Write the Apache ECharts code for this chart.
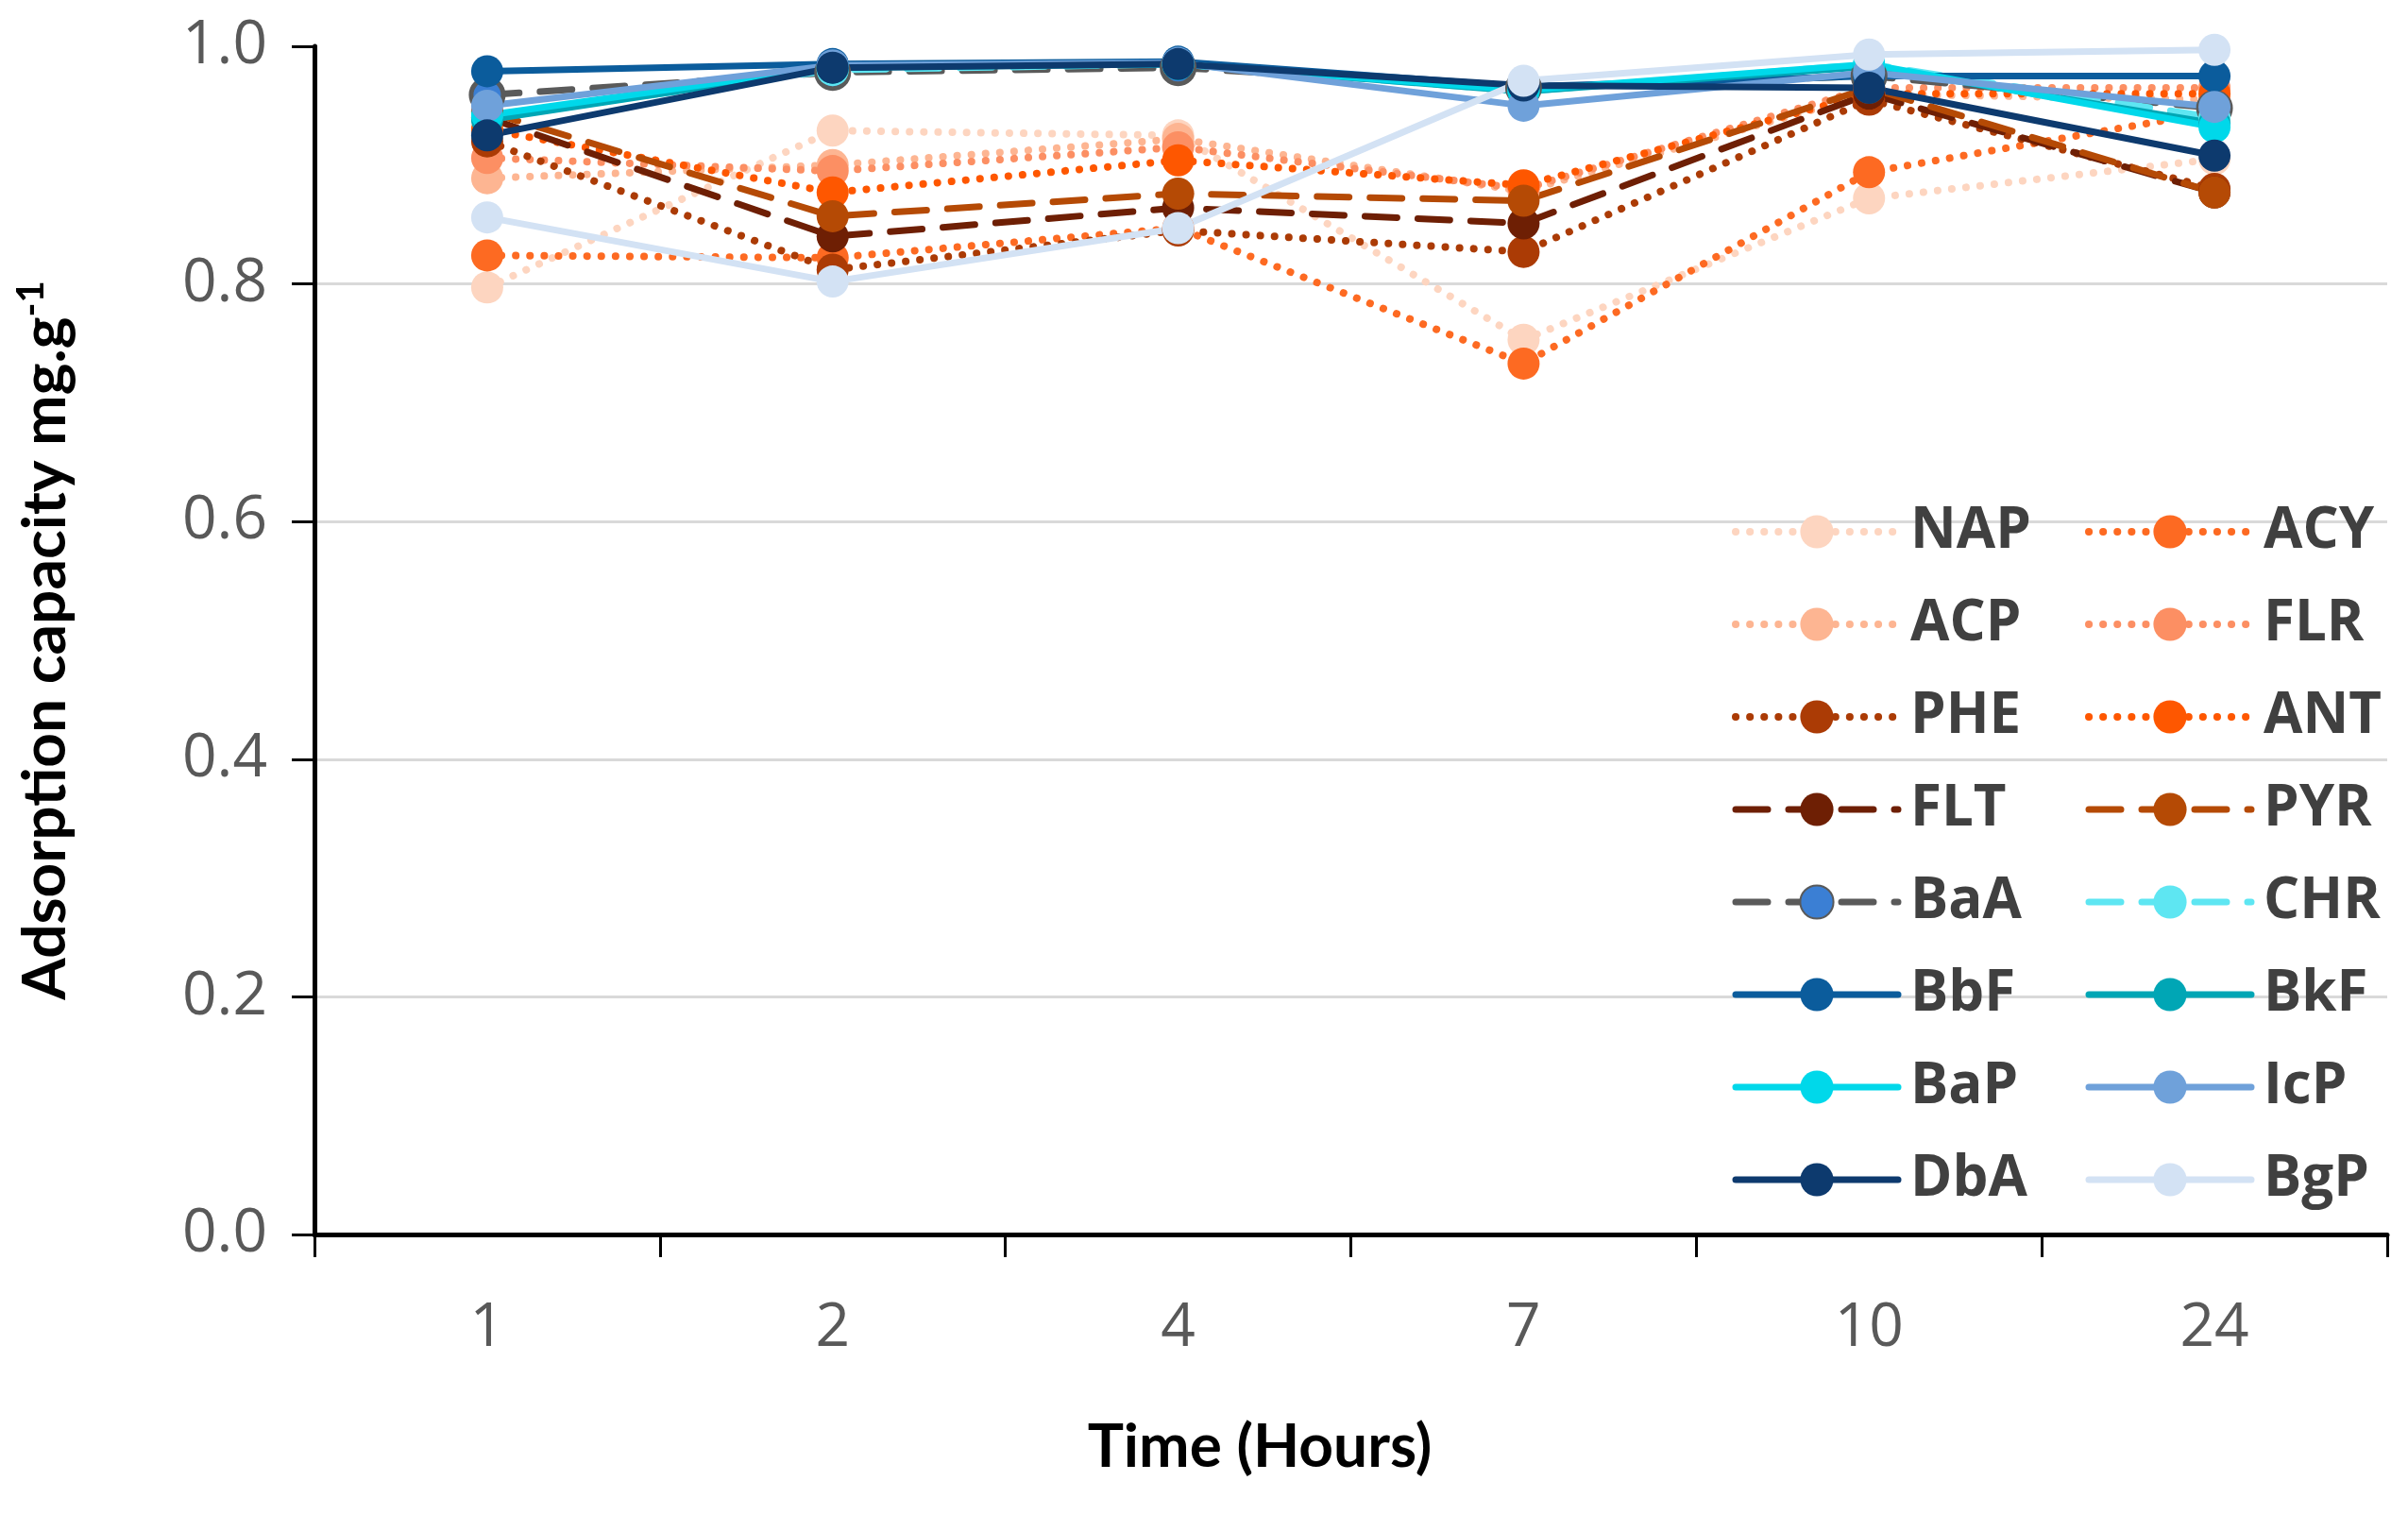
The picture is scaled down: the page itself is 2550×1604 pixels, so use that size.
<!DOCTYPE html>
<html>
<head>
<meta charset="utf-8">
<script src="https://cdn.jsdelivr.net/npm/echarts@6/dist/echarts.min.js"></script>
<style>
html,body{margin:0;padding:0;background:#fff;}
#chart{width:2550px;height:1604px;}
</style>
</head>
<body>
<div id="chart"></div>
<script>
const categories = ['1', '2', '4', '7', '10', '24'];
const yTicks = [0, 0.2, 0.4, 0.6, 0.8, 1.0];

const NAP = [0.797, 0.929, 0.925, 0.753, 0.872, 0.905];
const ACY = [0.824, 0.822, 0.847, 0.733, 0.894, 0.945];
const ACP = [0.889, 0.900, 0.922, 0.878, 0.960, 0.955];
const FLR = [0.906, 0.895, 0.915, 0.880, 0.965, 0.965];
const PHE = [0.920, 0.812, 0.845, 0.827, 0.955, 0.880];
const ANT = [0.930, 0.877, 0.904, 0.883, 0.960, 0.960];
const FLT = [0.940, 0.840, 0.864, 0.851, 0.960, 0.877];
const PYR = [0.945, 0.857, 0.876, 0.870, 0.965, 0.877];
const BaA = [0.959, 0.978, 0.982, 0.965, 0.975, 0.948];
const CHR = [0.940, 0.980, 0.985, 0.962, 0.985, 0.940];
const BbF = [0.979, 0.985, 0.987, 0.966, 0.975, 0.975];
const BkF = [0.938, 0.982, 0.985, 0.962, 0.983, 0.935];
const BaP = [0.942, 0.983, 0.985, 0.963, 0.985, 0.932];
const IcP = [0.950, 0.984, 0.986, 0.950, 0.978, 0.949];
const DbA = [0.925, 0.982, 0.985, 0.967, 0.965, 0.908];
const BgP = [0.856, 0.802, 0.847, 0.971, 0.993, 0.997];

const seriesNames = ['NAP','ACY','ACP','FLR','PHE','ANT','FLT','PYR','BaA','CHR','BbF','BkF','BaP','IcP','DbA','BgP'];
const seriesData = {NAP, ACY, ACP, FLR, PHE, ANT, FLT, PYR, BaA, CHR, BbF, BkF, BaP, IcP, DbA, BgP};
const leftLegend = ['NAP','ACP','PHE','FLT','BaA','BbF','BaP','DbA'];
const rightLegend = ['ACY','FLR','ANT','PYR','CHR','BkF','IcP','BgP'];

const styles = {
  NAP: {c:'#fdd5c0', t:'dot'},
  ACY: {c:'#fd6a22', t:'dot'},
  ACP: {c:'#fdb592', t:'dot'},
  FLR: {c:'#fc8f63', t:'dot'},
  PHE: {c:'#ab3b05', t:'dot'},
  ANT: {c:'#fe5700', t:'dot'},
  FLT: {c:'#6e1f04', t:'dash'},
  PYR: {c:'#b54a05', t:'dash'},
  BaA: {c:'#5a5a5a', t:'dash', fill:'#3b7fd4', border:'#5a5a5a'},
  CHR: {c:'#5ee6f2', t:'dash'},
  BbF: {c:'#0b5c9c', t:'solid'},
  BkF: {c:'#00a6b5', t:'solid'},
  BaP: {c:'#00d8ea', t:'solid'},
  IcP: {c:'#6fa1da', t:'solid'},
  DbA: {c:'#0d3a6e', t:'solid'},
  BgP: {c:'#d3e2f4', t:'solid'}
};

function lineStyleFor(s) {
  if (s.t === 'dot') return {color: s.c, width: 8, type: [0.1, 15], cap: 'round'};
  if (s.t === 'dash') return {color: s.c, width: 7, type: [34, 22], cap: 'round'};
  return {color: s.c, width: 7, type: 'solid', cap: 'round'};
}

const series = seriesNames.map(n => {
  const s = styles[n];
  return {
    name: n,
    type: 'line',
    data: seriesData[n],
    symbol: 'circle',
    symbolSize: 34,
    showSymbol: true,
    lineStyle: lineStyleFor(s),
    itemStyle: {
      color: s.fill || s.c,
      borderColor: s.border || s.c,
      borderWidth: s.border ? 5 : 0
    },
    emphasis: {disabled: true},
    animation: false
  };
});

const legendText = {fontSize: 60, fontWeight: 'bold', color: '#404040', fontFamily: 'Open Sans', lineHeight: 66, padding: [0,0,0,8]};
function makeLegend(names, left) {
  return {
    data: names.map(n => ({name: n, lineStyle: lineStyleFor(styles[n])})),
    orient: 'vertical',
    left: left,
    top: 525,
    itemWidth: 172,
    itemHeight: 44,
    itemGap: 32,
    textStyle: legendText,
    selectedMode: false
  };
}

const chart = echarts.init(document.getElementById('chart'), null, {renderer: 'canvas'});
chart.setOption({
  backgroundColor: '#ffffff',
  animation: false,
  title: {
    text: 'Time (Hours)',
    left: 1329,
    top: 1495,
    textAlign: 'center',
    textStyle: {fontFamily: 'Lato', fontWeight: 'bold', fontSize: 64, color: '#000'}
  },
  legend: [makeLegend(leftLegend, 1829), makeLegend(rightLegend, 2203)],
  grid: {left: 333, right: 22, top: 49, bottom: 297, containLabel: false},
  xAxis: {
    type: 'category',
    data: categories,
    boundaryGap: true,
    axisLine: {show: true, lineStyle: {color: '#000', width: 5}},
    axisTick: {show: true, alignWithLabel: false, length: 24, lineStyle: {color: '#000', width: 3}},
    axisLabel: {fontSize: 64, color: '#595959', fontFamily: 'Open Sans', margin: 68},
    splitLine: {show: false}
  },
  yAxis: {
    type: 'value',
    min: 0,
    max: 1,
    interval: 0.2,
    axisLine: {show: true, lineStyle: {color: '#000', width: 5}},
    axisTick: {show: true, inside: false, length: 24, lineStyle: {color: '#000', width: 3}},
    axisLabel: {fontSize: 64, color: '#595959', fontFamily: 'Open Sans', margin: 50, formatter: v => v.toFixed(1)},
    splitLine: {show: true, showMaxLine: false, showMinLine: false, lineStyle: {color: '#d9d9d9', width: 3}},
    name: '{a|Adsorption capacity mg.g}{b|-1}',
    nameLocation: 'middle',
    nameRotate: 90,
    nameGap: 250,
    nameTextStyle: {
      rich: {
        a: {fontFamily: 'Lato', fontWeight: 'bold', fontSize: 64, color: '#000'},
        b: {fontFamily: 'Lato', fontWeight: 'bold', fontSize: 40, color: '#000', padding: [0, 0, 30, 0]}
      }
    }
  },
  series: series
});
</script>
</body>
</html>
